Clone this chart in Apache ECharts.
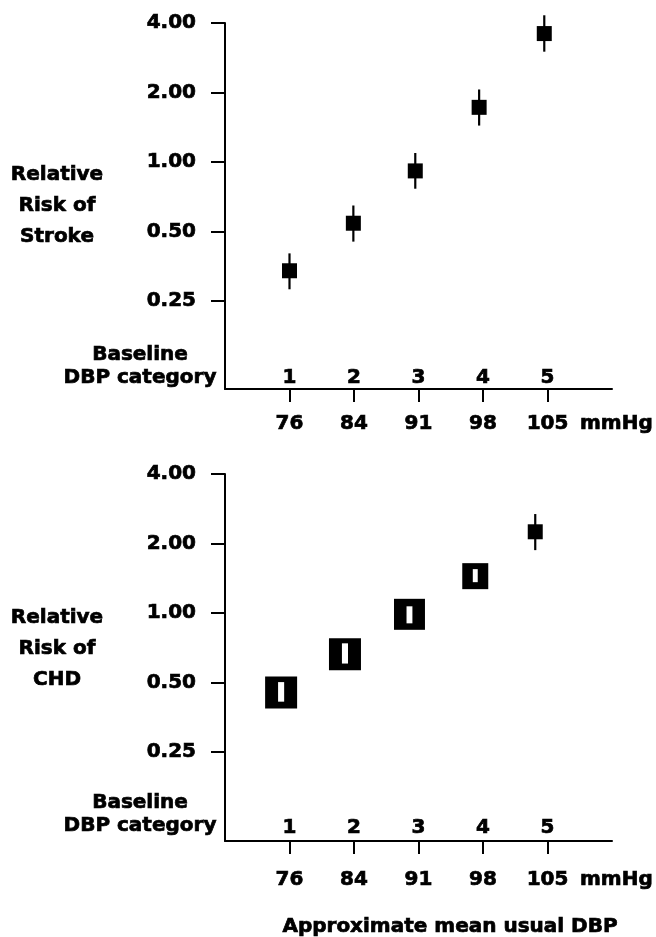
<!DOCTYPE html>
<html>
<head>
<meta charset="utf-8">
<script src="https://cdn.jsdelivr.net/npm/echarts@6/dist/echarts.min.js"></script>
<style>
html,body{margin:0;padding:0;background:#fff;}
#chart{width:656px;height:937px;}
</style>
</head>
<body>
<div id="chart"></div>
<script>
// ---- Data ----
const categoryLabels = ['', '1', '2', '3', '4', '5', ''];
const mmHgLabels = ['', '76', '84', '91', '98', '105', ''];

// Stroke panel (category position, relative risk, lower CI, upper CI)
const strokeX  = [1.00, 1.99, 2.95, 3.94, 4.95];
const strokeRR = [0.338, 0.543, 0.915, 1.725, 3.60];
const strokeLo = [0.281, 0.452, 0.766, 1.438, 3.005];
const strokeHi = [0.402, 0.648, 1.094, 2.061, 4.32];
const strokeBox = [15, 15, 15, 15, 15];

// CHD panel
const chdX  = [0.87, 1.86, 2.86, 3.88, 4.81];
const chdRR = [0.452, 0.663, 0.987, 1.444, 2.248];
const chdLo = [0.413, 0.604, 0.902, 1.360, 1.872];
const chdHi = [0.502, 0.739, 1.069, 1.549, 2.683];
const chdBox = [32, 32, 31, 26, 15];

// ---- Chart ----
const FONT = 'DejaVu Sans';
const txt = {color: '#000', fontFamily: FONT, fontWeight: 'bold', fontSize: 20, textBorderColor: '#000', textBorderWidth: 0.7};

function build(xs, rr, lo, hi, box) {
  return xs.map((x, i) => [x, rr[i], lo[i], hi[i], box[i]]);
}

function renderBox(params, api) {
  const x = api.value(0), v = api.value(1), lo = api.value(2), hi = api.value(3), s = api.value(4);
  const c = api.coord([x, v]);
  const a = api.coord([x, hi]);
  const b = api.coord([x, lo]);
  const children = [
    {type: 'line', shape: {x1: c[0], y1: a[1], x2: c[0], y2: b[1]}, style: {stroke: '#000', lineWidth: 2.2}},
    {type: 'rect', shape: {x: c[0] - s / 2, y: c[1] - s / 2, width: s, height: s}, style: {fill: '#000'}}
  ];
  if (a[1] > c[1] - s / 2 && b[1] < c[1] + s / 2) {
    const w = Math.max(2, s * 0.19);
    children.push({type: 'rect', shape: {x: c[0] - w / 2, y: a[1], width: w, height: b[1] - a[1]}, style: {fill: '#fff'}});
  }
  return {type: 'group', children};
}

const L = 225, W = 387;
const panels = [
  {top: 23, h: 366, hb: 278, numMargin: 1, mmMargin: 25},
  {top: 474, h: 367, hb: 278, numMargin: 3, mmMargin: 29}
];

const grid = [], xAxis = [], yAxis = [];
panels.forEach((p, k) => {
  grid.push({left: L, width: W, top: p.top, height: p.h});
  grid.push({left: L, width: W, top: p.top, height: p.hb});
  const gA = 2 * k, gB = 2 * k + 1;
  const onlyCats = (i) => i >= 1 && i <= 5;
  xAxis.push({
    gridIndex: gA, type: 'category', data: categoryLabels, boundaryGap: false, position: 'bottom',
    axisLine: {show: true, lineStyle: {color: '#000', width: 2}},
    axisTick: {show: true, interval: (i) => onlyCats(i), length: 13, lineStyle: {color: '#000', width: 2}},
    axisLabel: Object.assign({inside: true, interval: (i) => onlyCats(i), margin: p.numMargin}, txt),
    splitLine: {show: false}
  });
  xAxis.push({
    gridIndex: gA, type: 'category', data: mmHgLabels, boundaryGap: false, position: 'bottom', offset: 0,
    axisLine: {show: false}, axisTick: {show: false},
    axisLabel: Object.assign({interval: (i) => onlyCats(i), margin: p.mmMargin}, txt),
    splitLine: {show: false}
  });
  xAxis.push({gridIndex: gB, type: 'value', min: 0, max: 6, show: false});
  yAxis.push({
    gridIndex: gA, type: 'value', min: 0, max: 1,
    axisLine: {show: true, lineStyle: {color: '#000', width: 2}},
    axisTick: {show: false}, axisLabel: {show: false}, splitLine: {show: false}
  });
  yAxis.push({
    gridIndex: gB, type: 'log', logBase: 2, min: 0.25, max: 4, splitNumber: 4,
    axisLine: {show: false},
    axisTick: {show: true, length: 14, lineStyle: {color: '#000', width: 2}},
    axisLabel: Object.assign({margin: 29, formatter: (v) => Number(v).toFixed(2), padding: [9, 0, 0, 0]}, txt),
    splitLine: {show: false}
  });
});

const tfont = 'bold 20px "DejaVu Sans"';
function label(x, y, text, align, lh) {
  return {type: 'text', x, y, style: {text, align, verticalAlign: 'middle', lineHeight: lh || 24, font: tfont, fill: '#000', stroke: '#000', lineWidth: 0.7}};
}

const option = {
  backgroundColor: '#fff',
  animation: false,
  grid, xAxis, yAxis,
  series: [
    {type: 'custom', xAxisIndex: 2, yAxisIndex: 1, renderItem: renderBox, encode: {x: 0, y: 1},
     data: build(strokeX, strokeRR, strokeLo, strokeHi, strokeBox), clip: false},
    {type: 'custom', xAxisIndex: 5, yAxisIndex: 3, renderItem: renderBox, encode: {x: 0, y: 1},
     data: build(chdX, chdRR, chdLo, chdHi, chdBox), clip: false}
  ],
  graphic: [
    label(57, 206, 'Relative\nRisk of\nStroke', 'center', 31),
    label(140, 366, 'Baseline\nDBP category', 'center', 23),
    label(580, 424, 'mmHg', 'left'),
    label(57, 649, 'Relative\nRisk of\nCHD', 'center', 31),
    label(140, 814, 'Baseline\nDBP category', 'center', 23),
    label(580, 880, 'mmHg', 'left'),
    label(450, 927, 'Approximate mean usual DBP', 'center')
  ]
};

const chart = echarts.init(document.getElementById('chart'), null, {renderer: 'canvas'});
chart.setOption(option);
</script>
</body>
</html>
